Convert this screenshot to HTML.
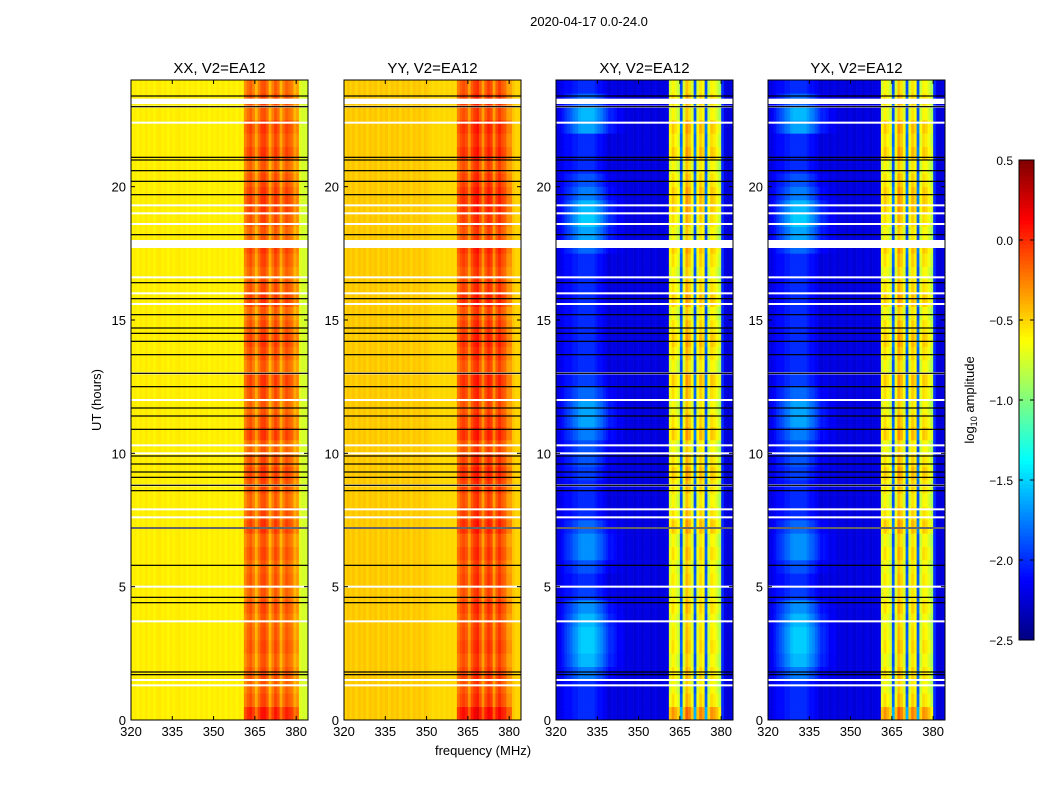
<!DOCTYPE html>
<html><head><meta charset="utf-8">
<style>
body{margin:0;background:#fff;}
svg{font-family:"Liberation Sans","DejaVu Sans",sans-serif;}
</style></head>
<body>
<svg id="fig" width="1050" height="800" viewBox="0 0 1050 800" xmlns="http://www.w3.org/2000/svg">
<text x="589" y="26" font-size="13" text-anchor="middle">2020-04-17 0.0-24.0</text>
<text x="483" y="755" font-size="13" text-anchor="middle">frequency (MHz)</text>
<text transform="translate(101,400) rotate(-90)" font-size="13" text-anchor="middle">UT (hours)</text>
<g id="panels"></g>
<g id="cbar"></g>
<text transform="translate(974,400) rotate(-90)" font-size="13" text-anchor="middle">log<tspan font-size="9" dy="3">10</tspan><tspan dy="-3"> amplitude</tspan></text>
</svg>
<script>
// ---- data ----
const panelTitles = ["XX, V2=EA12","YY, V2=EA12","XY, V2=EA12","YX, V2=EA12"];
const xTicks = [320,335,350,365,380];
const yTicks = [0,5,10,15,20];
const cbarTicks = [0.5,0.0,-0.5,-1.0,-1.5,-2.0,-2.5];
// spectral profiles, 1 MHz bins 320..383
const specXX = [-0.59,-0.57,-0.6,-0.57,-0.59,-0.56,-0.59,-0.57,-0.6,-0.57,-0.56,-0.59,-0.57,-0.6,-0.57,-0.59,-0.57,-0.56,-0.59,-0.57,-0.6,-0.57,-0.59,-0.57,-0.6,-0.57,-0.59,-0.57,-0.6,-0.57,-0.59,-0.57,-0.59,-0.57,-0.6,-0.57,-0.59,-0.57,-0.6,-0.57,-0.59,-0.3,-0.2,-0.15,-0.25,-0.42,-0.25,-0.12,-0.1,-0.2,-0.42,-0.25,-0.12,-0.2,-0.42,-0.25,-0.15,-0.2,-0.25,-0.42,-0.35,-0.72,-0.75,-0.75];
const specYY = [-0.5,-0.45,-0.48,-0.45,-0.5,-0.45,-0.48,-0.45,-0.5,-0.45,-0.48,-0.45,-0.5,-0.45,-0.48,-0.45,-0.5,-0.45,-0.48,-0.45,-0.5,-0.45,-0.48,-0.45,-0.5,-0.45,-0.48,-0.45,-0.5,-0.45,-0.48,-0.5,-0.52,-0.5,-0.52,-0.5,-0.52,-0.5,-0.52,-0.5,-0.52,-0.25,-0.15,-0.1,-0.15,-0.35,-0.15,-0.05,0.0,-0.15,-0.35,-0.15,-0.05,-0.1,-0.35,-0.15,-0.05,-0.15,-0.2,-0.35,-0.35,-0.45,-0.5,-0.5];
const specXY = [-2.2,-2.2,-2.15,-2.1,-2.1,-2.1,-2.05,-2.05,-2.0,-2.0,-2.0,-2.0,-2.0,-2.0,-2.05,-2.1,-2.1,-2.15,-2.2,-2.25,-2.2,-2.2,-2.25,-2.2,-2.2,-2.25,-2.2,-2.2,-2.25,-2.2,-2.2,-2.25,-2.2,-2.2,-2.25,-2.2,-2.2,-2.25,-2.2,-2.2,-2.2,-0.75,-0.6,-0.7,-0.8,-1.9,-0.75,-0.45,-0.55,-0.75,-1.9,-0.75,-0.55,-0.65,-1.9,-0.8,-0.6,-0.65,-0.75,-0.9,-2.0,-2.2,-2.25,-2.2];
const specYX = specXY.slice();
const specs = [specXX,specYY,specXY,specYX];
// cyan patch in cross-pols around 335 MHz
const blobProfile = [0,0.1,0.2,0.3,0.45,0.6,0.7,0.8,0.9,1,1,1,1,1,0.95,0.9,0.8,0.7,0.6,0.5,0.4,0.3,0.2,0.15,0.1,0.05,0,0,0,0,0,0,0,0,0,0,0,0,0,0,0,0,0,0,0,0,0,0,0,0,0,0,0,0,0,0,0,0,0,0,0,0,0,0];
// 0.5-hour rows, 0..24
const blobTime = [0,0,0,0.4,0.7,0.8,0.8,0.7,0.5,0.1,0,0.2,0.5,0.5,0.3,0,0,0,0.1,0.2,0.2,0.4,0.6,0.6,0.3,0.1,0,0,0,0,0,0,0,0,0,0.3,0.6,0.8,0.7,0.4,0.2,0,0,0,0.6,0.7,0.3,0];
const rowVar = [0.2,0.05,0,0.05,0,0.05,0.02,0,0.05,0,0.03,0,0.05,0,0.1,0.05,0,0.05,0.1,0.05,0,0.1,0.05,0,0.05,0.1,0,0.05,0.1,0.05,0,0.1,0.05,0,0.05,0.1,0,0.05,0.1,0.1,0.05,0,0.1,0.05,0.1,0,0.05,0];
// flagged times (hours)
const whiteLines = [23.0,22.4,19.3,19.0,18.6,16.6,16.0,15.6,13.0,12.0,10.3,10.0,8.8,7.9,7.6,7.2,5.0,3.7,1.5,1.3];
const whiteBands = [[17.7,18.0],[23.1,23.3]];
const blackLines = [23.4,23.0,21.1,21.0,20.6,20.2,19.7,18.2,16.4,15.8,15.2,14.7,14.5,14.2,13.7,13.0,12.5,11.7,11.4,10.9,9.9,9.6,9.3,9.1,8.8,8.6,7.2,5.8,4.6,4.4,1.8,1.7];
// ---- layout ----
const NS="http://www.w3.org/2000/svg";
const panelX = [131,344,556,768];
const pw = 177, pTop = 80, pBot = 720;
const fMin = 320, fMax = 384.3, tMin = 0, tMax = 24;
const vMin = -2.5, vMax = 0.5;
function xs(p,f){return panelX[p] + (f-fMin)/(fMax-fMin)*pw;}
function ys(t){return pBot - (t-tMin)/(tMax-tMin)*(pBot-pTop);}
function jet(v){
  let x=(v-vMin)/(vMax-vMin); x=Math.max(0,Math.min(1,x));
  const c=(a)=>Math.round(255*Math.max(0,Math.min(1,a)));
  const r=c(1.5-Math.abs(4*x-3)), g=c(1.5-Math.abs(4*x-2)), b=c(1.5-Math.abs(4*x-1));
  return `rgb(${r},${g},${b})`;
}
function mk(tag,attrs,parent){const e=document.createElementNS(NS,tag);for(const k in attrs)e.setAttribute(k,attrs[k]);parent.appendChild(e);return e;}
const root=document.getElementById('panels');
for(let p=0;p<4;p++){
  const g=mk('g',{},root);
  
  
  const spec=specs[p];
  const nT=blobTime.length;
  for(let t=0;t<nT;t++){
    const t0=t*24/nT, t1=(t+1)*24/nT;
    for(let f=0;f<spec.length;f++){
      let v=spec[f];
      if(p>=2) v+=blobProfile[f]*blobTime[t]*0.6 + (f>40&&f<60?rowVar[t]*1.5:0);
      else v+=(f>40&&f<61?rowVar[t]:0);
      const x0=xs(p,fMin+f), x1=Math.min(xs(p,fMin+f+1),panelX[p]+pw);
      const r=mk('rect',{x:x0,y:ys(t1),width:x1-x0+0.3,height:ys(t0)-ys(t1)+0.3,fill:jet(v)},g);
      
      
    }
  }
  for(const w of whiteLines){
    const l=mk('rect',{x:panelX[p],y:ys(w)-1,width:pw,height:2,fill:'#fff'},g);
    
    
  }
  for(const b of whiteBands){
    const l=mk('rect',{x:panelX[p],y:ys(b[1]),width:pw,height:ys(b[0])-ys(b[1]),fill:'#fff'},g);
    
    
  }
  for(const b of blackLines){
    const l=mk('rect',{x:panelX[p],y:ys(b)-0.6,width:pw,height:1.2,fill:'#000'},g);
    
    
  }
  const fr=mk('rect',{x:panelX[p],y:pTop,width:pw,height:pBot-pTop,fill:'none',stroke:'#000','stroke-width':1},g);
  
  
  const tt=mk('text',{x:panelX[p]+pw/2,y:pTop-7,'font-size':15,'text-anchor':'middle'},g);
  tt.textContent=panelTitles[p];
  
  
  for(const xt of xTicks){
    const x=xs(p,xt);
    mk('line',{x1:x,x2:x,y1:pBot,y2:pBot-4,stroke:'#000'},g);
    mk('line',{x1:x,x2:x,y1:pTop,y2:pTop+4,stroke:'#000'},g);
    const lb=mk('text',{x:x,y:pBot+16,'font-size':13,'text-anchor':'middle'},g);
    lb.textContent=xt;
    
    
  }
  for(const yt of yTicks){
    const y=ys(yt);
    mk('line',{x1:panelX[p],x2:panelX[p]+4,y1:y,y2:y,stroke:'#000'},g);
    mk('line',{x1:panelX[p]+pw,x2:panelX[p]+pw-4,y1:y,y2:y,stroke:'#000'},g);
    const lb=mk('text',{x:panelX[p]-5,y:y+5,'font-size':13,'text-anchor':'end'},g);
    lb.textContent=yt;
    
    
  }
}
// colorbar
const cb=document.getElementById('cbar');
const cbX=1019, cbW=15, cbTop=160, cbBot=640;
function cy(v){return cbBot-(v-vMin)/(vMax-vMin)*(cbBot-cbTop);}
for(let i=0;i<120;i++){
  const v0=vMin+i*(vMax-vMin)/120, v1=vMin+(i+1)*(vMax-vMin)/120;
  mk('rect',{x:cbX,y:cy(v1),width:cbW,height:cy(v0)-cy(v1)+0.5,fill:jet((v0+v1)/2)},cb);
}
mk('rect',{x:cbX,y:cbTop,width:cbW,height:cbBot-cbTop,fill:'none',stroke:'#000'},cb);
for(const t of cbarTicks){
  const y=cy(t);
  mk('line',{x1:cbX,x2:cbX+4,y1:y,y2:y,stroke:'#000'},cb);
  mk('line',{x1:cbX+cbW,x2:cbX+cbW-4,y1:y,y2:y,stroke:'#000'},cb);
  const lb=mk('text',{x:cbX-6,y:y+5,'font-size':12,'text-anchor':'end'},cb);
  lb.textContent=(t<0?'\u2212':'')+Math.abs(t).toFixed(1);
  
  
}
</script>
</body></html>
